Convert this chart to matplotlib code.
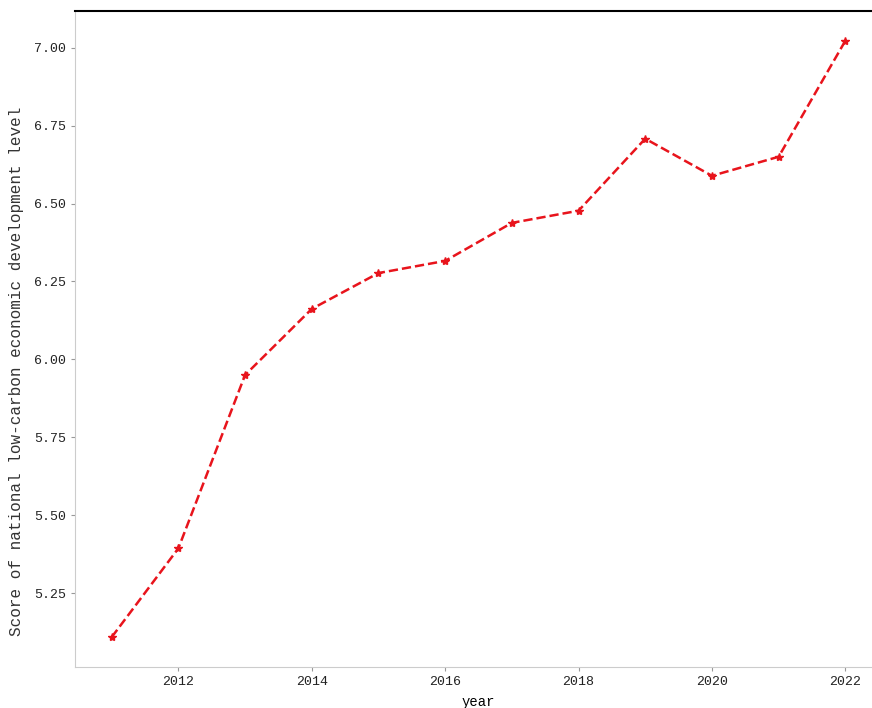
import numpy as np
import matplotlib.pyplot as plt

plt.rcParams['font.family'] = ['Liberation Mono', 'DejaVu Sans Mono']

years = [2011, 2012, 2013, 2014, 2015, 2016, 2017, 2018, 2019, 2020, 2021, 2022]
scores = [5.109, 5.394, 5.950, 6.162, 6.277, 6.316, 6.438, 6.477, 6.708, 6.589, 6.650, 7.022]
yticks = [5.25, 5.50, 5.75, 6.00, 6.25, 6.50, 6.75, 7.00]
xticks = [2012, 2014, 2016, 2018, 2020, 2022]

fig = plt.figure(figsize=(8.72, 7.08), dpi=100)
# axes runs off the right edge on purpose
ax = fig.add_axes([75 / 872, 41 / 708, 807 / 872, 656 / 708])

ax.plot(years, scores, linestyle='--', color='#e8141c', linewidth=1.8,
        marker='*', markersize=6)

ax.set_yticks(yticks)
ax.set_yticklabels(['%.2f' % v for v in yticks])
ax.set_xticks(xticks)
ax.tick_params(labelsize=9.5, colors='#222222', length=3, color='#999999')

for side in ['left', 'bottom']:
    ax.spines[side].set_color('#cccccc')
ax.spines['top'].set_color('black')
ax.spines['top'].set_linewidth(1.5)
ax.spines['right'].set_visible(False)

ax.set_xlabel('year', fontsize=10, labelpad=5)
ax.set_ylabel('Score of national low-carbon economic development level',
              fontsize=11.5, color='#333333')
ax.yaxis.set_label_coords(-0.063, 0.45)

fig.savefig('out.png', dpi=100)
